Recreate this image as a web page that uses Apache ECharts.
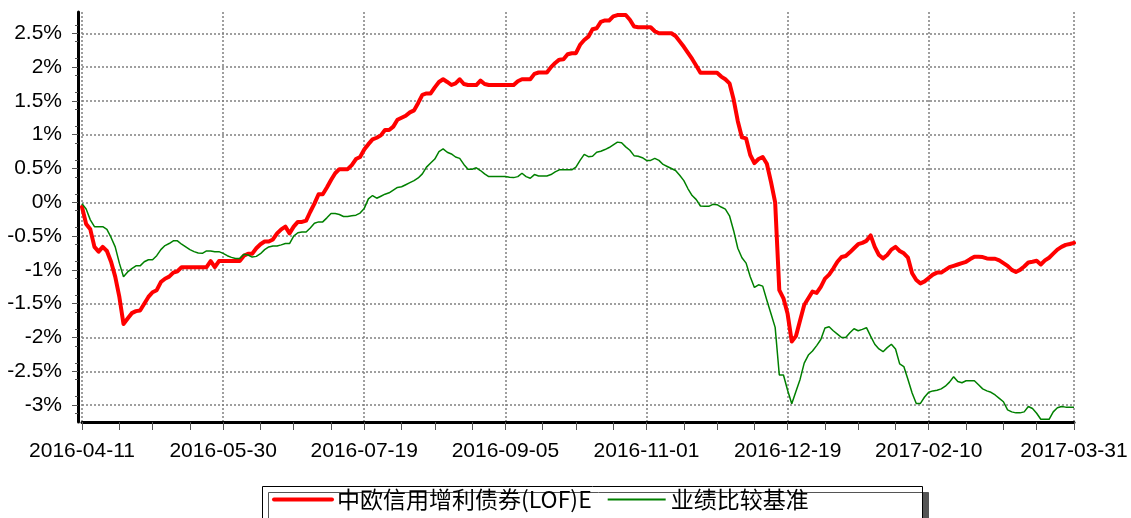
<!DOCTYPE html>
<html>
<head>
<meta charset="utf-8">
<script src="https://cdn.jsdelivr.net/npm/echarts@6/dist/echarts.min.js"></script>
<style>
html,body{margin:0;padding:0;background:#fff;}
#chart{width:1131px;height:518px;}
</style>
</head>
<body>
<div id="chart"></div>
<script>
// ---------- data ----------
const seriesNames = ['中欧信用增利债券(LOF)E', '业绩比较基准'];
const startDate = '2016-04-11';
const endDate = '2017-03-31';
// weekday exchange holidays in the period
const holidays = ['2016-05-02','2016-06-09','2016-06-10','2016-09-15','2016-09-16',
  '2016-10-03','2016-10-04','2016-10-05','2016-10-06','2016-10-07',
  '2017-01-02','2017-01-27','2017-01-30','2017-01-31','2017-02-01','2017-02-02'];
// year-end NAV date (weekend)
const extraDates = ['2016-12-31'];
// indices of the labelled dates on the x axis
const xLabelIndices = [0, 34, 68, 102, 136, 170, 204, 239];
// y-axis tick values (%)
const yTickValues = [-3, -2.5, -2, -1.5, -1, -0.5, 0, 0.5, 1, 1.5, 2, 2.5];

// cumulative return of the fund (%)
const fundValues = [
 -0.07,-0.32,-0.40,-0.66,-0.73,-0.66,-0.72,-0.88,-1.10,-1.40,
 -1.80,-1.72,-1.64,-1.61,-1.60,-1.50,-1.40,-1.33,-1.30,-1.18,
 -1.13,-1.10,-1.04,-1.02,-0.96,-0.96,-0.96,-0.96,-0.96,-0.96,
 -0.96,-0.87,-0.96,-0.87,-0.87,-0.87,-0.87,-0.87,-0.87,-0.79,
 -0.76,-0.76,-0.68,-0.62,-0.58,-0.58,-0.55,-0.46,-0.40,-0.36,
 -0.46,-0.36,-0.29,-0.29,-0.27,-0.14,-0.02,0.12,0.12,0.22,
 0.33,0.43,0.49,0.49,0.49,0.55,0.64,0.67,0.78,0.86,
 0.93,0.955,0.99,1.07,1.07,1.12,1.22,1.25,1.28,1.33,
 1.36,1.47,1.59,1.61,1.61,1.70,1.78,1.82,1.78,1.735,
 1.76,1.82,1.75,1.735,1.735,1.735,1.80,1.75,1.735,1.735,
 1.735,1.735,1.735,1.735,1.735,1.79,1.82,1.82,1.82,1.90,1.92,
 1.92,1.92,2.00,2.06,2.11,2.115,2.19,2.205,2.205,2.33,
 2.40,2.45,2.56,2.575,2.67,2.69,2.69,2.75,2.77,2.77,
 2.77,2.70,2.60,2.59,2.59,2.59,2.59,2.53,2.50,2.50,
 2.50,2.50,2.46,2.38,2.30,2.21,2.12,2.02,1.917,1.917,
 1.917,1.917,1.917,1.86,1.82,1.76,1.52,1.20,0.96,0.945,
 0.70,0.58,0.64,0.67,0.57,0.30,0.00,-1.30,-1.42,-1.65,
 -2.06,-1.98,-1.75,-1.52,-1.42,-1.32,-1.34,-1.25,-1.13,-1.07,
 -0.98,-0.88,-0.81,-0.795,-0.74,-0.68,-0.62,-0.60,-0.57,-0.49,
 -0.66,-0.78,-0.83,-0.78,-0.70,-0.66,-0.72,-0.755,-0.82,-1.05,
 -1.15,-1.20,-1.17,-1.12,-1.07,-1.04,-1.04,-1.00,-0.96,-0.94,
 -0.92,-0.90,-0.88,-0.84,-0.805,-0.805,-0.81,-0.83,-0.835,-0.835,
 -0.86,-0.90,-0.94,-1.00,-1.03,-1.00,-0.95,-0.89,-0.88,-0.865,
 -0.92,-0.86,-0.82,-0.76,-0.70,-0.66,-0.63,-0.617,-0.60
];
// cumulative return of the benchmark (%)
const benchValues = [
 -0.02,-0.10,-0.26,-0.36,-0.36,-0.36,-0.40,-0.52,-0.66,-0.90,
 -1.10,-1.03,-0.98,-0.94,-0.94,-0.88,-0.85,-0.85,-0.79,-0.70,
 -0.64,-0.61,-0.57,-0.57,-0.62,-0.66,-0.70,-0.73,-0.75,-0.755,
 -0.72,-0.72,-0.73,-0.73,-0.755,-0.79,-0.815,-0.83,-0.83,-0.77,
 -0.78,-0.81,-0.80,-0.76,-0.70,-0.66,-0.645,-0.645,-0.63,-0.61,
 -0.61,-0.50,-0.45,-0.44,-0.44,-0.38,-0.31,-0.29,-0.29,-0.23,
 -0.165,-0.165,-0.18,-0.21,-0.21,-0.20,-0.19,-0.16,-0.09,0.05,
 0.10,0.06,0.09,0.12,0.14,0.18,0.22,0.23,0.26,0.29,
 0.32,0.36,0.42,0.52,0.58,0.64,0.75,0.79,0.74,0.715,
 0.67,0.65,0.56,0.49,0.49,0.51,0.47,0.42,0.38,0.38,
 0.38,0.38,0.38,0.37,0.365,0.38,0.43,0.38,0.355,0.41,0.39,
 0.39,0.39,0.41,0.45,0.48,0.48,0.48,0.48,0.52,0.62,
 0.71,0.675,0.68,0.74,0.755,0.78,0.81,0.85,0.89,0.88,
 0.82,0.77,0.69,0.68,0.66,0.62,0.62,0.65,0.62,0.56,
 0.53,0.50,0.47,0.40,0.32,0.20,0.10,0.04,-0.055,-0.06,
 -0.06,-0.03,-0.035,-0.07,-0.10,-0.20,-0.42,-0.68,-0.82,-0.90,
 -1.10,-1.26,-1.22,-1.24,-1.45,-1.65,-1.85,-2.555,-2.555,-2.78,
 -2.98,-2.80,-2.62,-2.38,-2.26,-2.20,-2.12,-2.03,-1.86,-1.84,
 -1.90,-1.95,-2.00,-2.00,-1.93,-1.87,-1.90,-1.88,-1.855,-1.98,
 -2.10,-2.17,-2.21,-2.15,-2.10,-2.17,-2.39,-2.43,-2.62,-2.82,
 -2.975,-2.975,-2.88,-2.81,-2.79,-2.78,-2.76,-2.72,-2.66,-2.58,
 -2.65,-2.67,-2.64,-2.64,-2.64,-2.70,-2.76,-2.79,-2.81,-2.85,
 -2.90,-2.95,-3.07,-3.10,-3.115,-3.115,-3.10,-3.02,-3.05,-3.12,
 -3.21,-3.21,-3.21,-3.10,-3.04,-3.02,-3.03,-3.03,-3.03
];

// ---------- build categories (trading days) ----------
function pad(n){return n < 10 ? '0' + n : '' + n;}
function buildDates(start, end){
  const out = [];
  const d = new Date(start + 'T00:00:00Z');
  const e = new Date(end + 'T00:00:00Z');
  while (d <= e) {
    const s = d.getUTCFullYear() + '-' + pad(d.getUTCMonth() + 1) + '-' + pad(d.getUTCDate());
    const wd = d.getUTCDay();
    if ((wd !== 0 && wd !== 6 && holidays.indexOf(s) < 0) || extraDates.indexOf(s) >= 0) out.push(s);
    d.setUTCDate(d.getUTCDate() + 1);
  }
  return out;
}
const categories = buildDates(startDate, endDate);

const labelSet = new Set(xLabelIndices);
const tickSet = new Set();
for (let k = 0; k < xLabelIndices.length - 1; k++) {
  const a = xLabelIndices[k], b = xLabelIndices[k + 1];
  for (let j = 0; j <= 4; j++) tickSet.add(Math.round(a + (b - a) * j / 4));
}

const chart = echarts.init(document.getElementById('chart'), null, {renderer: 'canvas'});
const axisFont = "'Liberation Sans', Arial, sans-serif";
chart.setOption({
  animation: false,
  backgroundColor: '#ffffff',
  grid: {left: 82, right: 57, top: 12, bottom: 96, containLabel: false, outerBoundsMode: 'none'},
  xAxis: {
    type: 'category',
    data: categories,
    boundaryGap: false,
    axisLine: {show: true, onZero: false, lineStyle: {color: '#000', width: 3}},
    axisTick: {show: true, interval: (i) => tickSet.has(i), length: 8, lineStyle: {color: '#555', width: 1}},
    axisLabel: {
      interval: (i) => labelSet.has(i),
      fontSize: 21, fontFamily: axisFont, color: '#000', margin: 19,
      hideOverlap: false
    },
    splitLine: {show: true, interval: (i) => labelSet.has(i), lineStyle: {color: '#808080', type: [2, 2], width: 1.5}}
  },
  yAxis: {
    type: 'value',
    min: -3.25, max: 2.815, interval: 0.25,
    offset: 4,
    axisLine: {show: true, lineStyle: {color: '#000', width: 3}},
    axisTick: {show: true, customValues: yTickValues, length: 6, lineStyle: {color: '#555', width: 1}},
    minorTick: {show: true, splitNumber: 2, length: 3, lineStyle: {color: '#555', width: 1}},
    axisLabel: {customValues: yTickValues, formatter: (v) => v + '%', fontSize: 21, fontFamily: axisFont, color: '#000', margin: 16},
    splitLine: {show: true, lineStyle: {color: '#808080', type: [2, 2], width: 1.5}}
  },
  graphic: [{
    type: 'rect', left: 262, top: 486, z: 1,
    shape: {width: 660, height: 44},
    style: {fill: '#fff', stroke: '#000', lineWidth: 1, shadowColor: '#555', shadowOffsetX: 6, shadowOffsetY: 6, shadowBlur: 0}
  }],
  legend: {
    left: 272, top: 488, z: 10,
    padding: 0,
    itemWidth: 58, itemHeight: 8, itemGap: 15,
    itemStyle: {opacity: 0},
    textStyle: {fontSize: 23, fontFamily: "'Noto Sans CJK SC', sans-serif", color: '#000'},
    data: [
      {name: seriesNames[0], lineStyle: {width: 4, color: '#ff0000'}},
      {name: seriesNames[1], lineStyle: {width: 2, color: '#008000'}}
    ]
  },
  series: [
    {name: seriesNames[0], type: 'line', data: fundValues, symbol: 'none', z: 2,
     lineStyle: {color: '#ff0000', width: 4, join: 'round', cap: 'round'}, itemStyle: {color: '#ff0000'}},
    {name: seriesNames[1], type: 'line', data: benchValues, symbol: 'none', z: 3,
     lineStyle: {color: '#008000', width: 1.5}, itemStyle: {color: '#008000'}}
  ]
});
</script>
</body>
</html>
